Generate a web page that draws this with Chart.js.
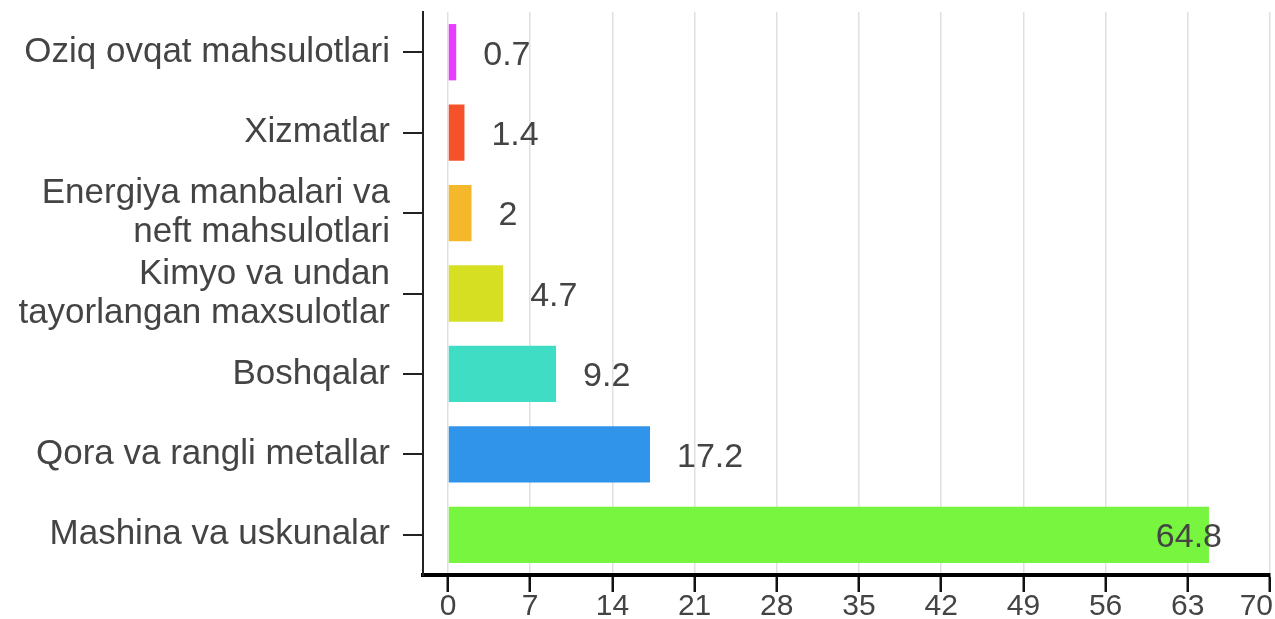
<!DOCTYPE html>
<html>
<head>
<meta charset="utf-8">
<script src="https://cdn.jsdelivr.net/npm/chart.js@4/dist/chart.umd.min.js"></script>
<style>
  html, body { margin: 0; padding: 0; background: #fff; }
  canvas { display: block; }
</style>
</head>
<body>
<canvas id="exportChart" width="1275" height="619"></canvas>
<script>
// categories (top to bottom) and their values
const categories = [
  "Oziq ovqat mahsulotlari",
  "Xizmatlar",
  ["Energiya manbalari va", "neft mahsulotlari"],
  ["Kimyo va undan", "tayorlangan maxsulotlar"],
  "Boshqalar",
  "Qora va rangli metallar",
  "Mashina va uskunalar"
];
const values = [0.7, 1.4, 2, 4.7, 9.2, 17.2, 64.8];
const barColors = ["#E73EFE", "#F5512B", "#F6B82B", "#D6DF22", "#3EDDC4", "#3094EA", "#77F53F"];
const xTicks = [0, 7, 14, 21, 28, 35, 42, 49, 56, 63, 70];

const FONT = "'Liberation Sans', Arial, sans-serif";
const TEXT = "#444444";

// value labels next to bars + x tick labels (kept inside the canvas)
const extraText = {
  id: "extraText",
  afterDatasetsDraw(chart) {
    const ctx = chart.ctx;
    const meta = chart.getDatasetMeta(0);
    ctx.save();
    ctx.fillStyle = TEXT;
    ctx.textBaseline = "middle";

    ctx.font = "34px " + FONT;
    meta.data.forEach((bar, i) => {
      const txt = String(values[i]);
      const w = ctx.measureText(txt).width;
      let x = bar.x + 27;
      if (x + w > 1222) x = 1222 - w;
      ctx.fillText(txt, x, bar.y + 3);
    });

    const xs = chart.scales.x;
    ctx.font = "30px " + FONT;
    xTicks.forEach((v) => {
      const txt = String(v);
      const w = ctx.measureText(txt).width;
      let x = xs.getPixelForValue(v) - w / 2;
      if (x + w > chart.width - 2) x = chart.width - 2 - w;
      ctx.fillText(txt, x, 607);
    });
    ctx.restore();
  }
};

new Chart(document.getElementById("exportChart"), {
  type: "bar",
  data: {
    labels: categories,
    datasets: [{
      data: values,
      backgroundColor: barColors,
      borderWidth: 0,
      barPercentage: 0.7,
      categoryPercentage: 1.0
    }]
  },
  options: {
    indexAxis: "y",
    responsive: false,
    animation: false,
    layout: { padding: { top: 12, right: 5, left: 0, bottom: 0 } },
    plugins: { legend: { display: false }, tooltip: { enabled: false } },
    scales: {
      x: {
        min: -2.13,
        max: 70,
        afterBuildTicks: (scale) => { scale.ticks = xTicks.map(v => ({ value: v })); },
        afterFit: (scale) => {
          scale.height = 44;
          scale.paddingLeft = 0;
          scale.paddingRight = 0;
        },
        border: { display: true, color: "#000", width: 4 },
        grid: {
          color: "#e0e0e0",
          lineWidth: 1.5,
          drawTicks: true,
          tickLength: 17,
          tickColor: "#111",
          tickWidth: 2.5
        },
        ticks: { display: false, autoSkip: false }
      },
      y: {
        afterFit: (scale) => {
          scale.width = 423;
          scale.paddingTop = 0;
          scale.paddingBottom = 0;
        },
        border: { display: true, color: "#222", width: 2 },
        grid: {
          offset: false,
          drawOnChartArea: false,
          drawTicks: true,
          tickLength: 20,
          color: "#222",
          lineWidth: 2
        },
        ticks: {
          color: TEXT,
          font: { family: FONT, size: 35, lineHeight: 1.12 },
          padding: 13,
          autoSkip: false
        }
      }
    }
  },
  plugins: [extraText]
});
</script>
</body>
</html>
